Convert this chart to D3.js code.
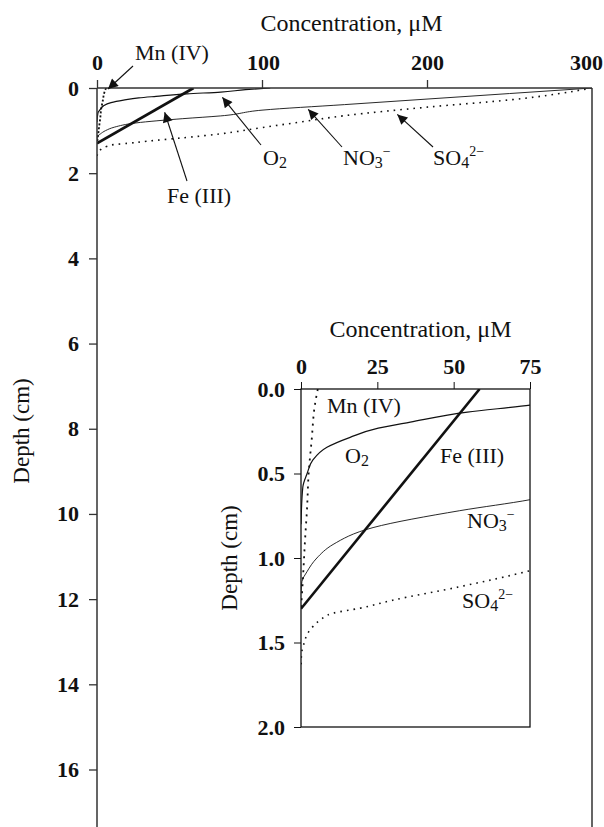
<!DOCTYPE html>
<html>
<head>
<meta charset="utf-8">
<script src="https://cdn.jsdelivr.net/npm/d3@7"></script>
<style>
  body { margin: 0; background: #fff; }
  text { font-family: "Liberation Serif", "Times New Roman", serif; fill: #111; }
  .tick text { font-weight: bold; font-size: 22px; }
  .lbl { font-size: 22px; }
  .ttl { font-size: 24px; }
</style>
</head>
<body>
<script>
// depth profiles (concentration in uM, depth in cm)
var o2Conc   = [105, 90, 75, 54.5, 35.8, 25.3, 16.1, 8.5, 3.9, 2.0, 0.6, 0];
var o2Depth  = [0, 0.04, 0.095, 0.137, 0.196, 0.232, 0.286, 0.345, 0.42, 0.5, 0.58, 0.8];
var no3Conc  = [300, 250, 200, 150, 100, 75, 52, 23.6, 10.5, 5.2, 2, 0.3, 0];
var no3Depth = [0, 0.13, 0.26, 0.39, 0.52, 0.655, 0.72, 0.82, 0.92, 1.0, 1.08, 1.14, 1.2];
var so4Conc  = [300, 250, 200, 150, 123, 100, 75, 52, 30, 19.3, 10.4, 6.3, 3.9, 2.2, 1.0, 0.2, 0];
var so4Depth = [0, 0.28, 0.45, 0.65, 0.8, 0.93, 1.075, 1.17, 1.25, 1.297, 1.327, 1.367, 1.406, 1.446, 1.505, 1.564, 1.645];
var feConc   = [58.5, 0];
var feDepth  = [0, 1.3];
var mnConc   = [5.5, 4.5, 3.5, 2.5, 2, 1.3, 0.7, 0];
var mnDepth  = [0, 0.1, 0.3, 0.5, 0.7, 0.9, 1.1, 1.3];

var mainXTicks = [0, 100, 200, 300];
var mainYTicks = [0, 2, 4, 6, 8, 10, 12, 14, 16];
var insetXTicks = [0, 25, 50, 75];
var insetYTicks = [0, 0.5, 1.0, 1.5, 2.0];

function zip(c, d) { return c.map(function(v, i) { return {c: v, d: d[i]}; }); }
var series = [
  {key: "so4", data: zip(so4Conc, so4Depth), w: 1.6, dash: "1.6,5"},
  {key: "no3", data: zip(no3Conc, no3Depth), w: 0.9, dash: null},
  {key: "o2",  data: zip(o2Conc, o2Depth),   w: 1.2, dash: null},
  {key: "mn",  data: zip(mnConc, mnDepth),   w: 1.8, dash: "2,2"},
  {key: "fe",  data: zip(feConc, feDepth),   w: 2.8, dash: null}
];

var W = 604, H = 827;
var svg = d3.select("body").append("svg").attr("width", W).attr("height", H);

var defs = svg.append("defs");
defs.append("marker").attr("id", "arr")
    .attr("viewBox", "0 0 10 10").attr("refX", 10).attr("refY", 5)
    .attr("markerWidth", 13).attr("markerHeight", 10)
    .attr("markerUnits", "userSpaceOnUse")
    .attr("orient", "auto")
  .append("path").attr("d", "M0,0L10,5L0,10z").attr("fill", "#111");

// ---- main panel ----
var x = d3.scaleLinear().domain([0, 300]).range([97, 592]);
var y = d3.scaleLinear().domain([0, 17.35]).range([88, 827]);

defs.append("clipPath").attr("id", "clipMain").append("rect")
    .attr("x", x(0)).attr("y", y(0)).attr("width", x(300) - x(0)).attr("height", y(17.35) - y(0));

var line = d3.line()
    .x(function(d) { return x(d.c); })
    .y(function(d) { return y(d.d); })
    .curve(d3.curveMonotoneY);

var main = svg.append("g");
main.append("g").attr("clip-path", "url(#clipMain)")
  .selectAll("path").data(series).enter().append("path")
    .attr("d", function(s) { return line(s.data); })
    .attr("fill", "none").attr("stroke", "#111")
    .attr("stroke-width", function(s) { return s.w; })
    .attr("stroke-dasharray", function(s) { return s.dash; });

main.append("g")
    .attr("transform", "translate(0," + y(0) + ")")
    .call(d3.axisTop(x).tickValues(mainXTicks).tickSize(8).tickPadding(10))
    .call(function(g) {
      g.select(".domain").remove();
      g.selectAll(".tick").filter(function(d) { return d === 300; })
        .select("line").remove();
      g.selectAll(".tick text").attr("dx", function(d) { return d === 300 ? -6 : (d === 100 ? 1 : 0); });
    });
main.append("g")
    .attr("transform", "translate(" + x(0) + ",0)")
    .call(d3.axisLeft(y).tickValues(mainYTicks).tickSize(8).tickPadding(10))
    .call(function(g) { g.select(".domain").remove(); });
main.selectAll(".tick line").attr("stroke", "#333").attr("stroke-width", 1.3);

// frame: top axis, left & right sides
main.append("path")
    .attr("d", "M" + x(0) + "," + y(0) + "H" + x(300)
             + "M" + x(0) + "," + y(0) + "V" + y(17.35)
             + "M" + x(300) + "," + y(0) + "V" + y(17.35))
    .attr("stroke", "#333").attr("stroke-width", 1.5).attr("fill", "none");

main.append("text").attr("class", "ttl")
    .attr("x", (x(0) + x(300)) / 2 + 7).attr("y", 31)
    .attr("text-anchor", "middle").text("Concentration, \u03bcM");
main.append("text").attr("class", "lbl")
    .attr("transform", "translate(29," + 431 + ") rotate(-90)")
    .attr("text-anchor", "middle").style("font-size", "23px").text("Depth (cm)");

// label with optional sub/superscripts
function label(g, px, py, base, sub, sup) {
  var t = g.append("text").attr("class", "lbl").attr("x", px).attr("y", py);
  t.append("tspan").text(base);
  if (sub) t.append("tspan").attr("font-size", "16px").attr("dy", 3).text(sub);
  if (sup) t.append("tspan").attr("font-size", "14px").attr("dy", sub ? -12 : -9).text(sup);
  return t;
}

function arrow(x1, y1, x2, y2) {
  main.append("line").attr("x1", x1).attr("y1", y1).attr("x2", x2).attr("y2", y2)
      .attr("stroke", "#111").attr("stroke-width", 1.1).attr("marker-end", "url(#arr)");
}

label(main, 135, 60, "Mn (IV)");
arrow(133, 66, 108, 89);
label(main, 263, 165, "O", "2");
arrow(261, 145, x(76), y(0.22));
label(main, 343, 165, "NO", "3", "\u2212");
arrow(342, 147, x(128), y(0.5));
label(main, 433, 165, "SO", "4", "2\u2212");
arrow(433, 147, x(182), y(0.62));
label(main, 167, 203, "Fe (III)");
arrow(187, 181, x(41), y(0.57));

// ---- inset ----
var xi = d3.scaleLinear().domain([0, 75]).range([301, 530]);
var yi = d3.scaleLinear().domain([0, 2]).range([389, 727]);

defs.append("clipPath").attr("id", "clipInset").append("rect")
    .attr("x", xi(0)).attr("y", yi(0)).attr("width", xi(75) - xi(0)).attr("height", yi(2) - yi(0));

var lineI = d3.line()
    .x(function(d) { return xi(d.c); })
    .y(function(d) { return yi(d.d); })
    .curve(d3.curveMonotoneY);

var inset = svg.append("g");
inset.append("rect")
    .attr("x", xi(0)).attr("y", yi(0)).attr("width", xi(75) - xi(0)).attr("height", yi(2) - yi(0))
    .attr("fill", "#fff");
inset.append("g").attr("clip-path", "url(#clipInset)")
  .selectAll("path").data(series).enter().append("path")
    .attr("d", function(s) { return lineI(s.data); })
    .attr("fill", "none").attr("stroke", "#111")
    .attr("stroke-width", function(s) { return s.key === "fe" ? 2.6 : (s.key === "so4" ? 1.6 : s.w); })
    .attr("stroke-dasharray", function(s) { return s.key === "mn" ? "2,5" : s.dash; });

inset.append("g")
    .attr("transform", "translate(0," + yi(0) + ")")
    .call(d3.axisTop(xi).tickValues(insetXTicks).tickSize(7).tickPadding(8))
    .call(function(g) { g.select(".domain").remove(); });
inset.append("g")
    .attr("transform", "translate(" + xi(0) + ",0)")
    .call(d3.axisLeft(yi).tickValues(insetYTicks).tickSize(7).tickPadding(9).tickFormat(d3.format(".1f")))
    .call(function(g) { g.select(".domain").remove(); });
inset.selectAll(".tick line").attr("stroke", "#111");

inset.append("rect")
    .attr("x", xi(0)).attr("y", yi(0)).attr("width", xi(75) - xi(0)).attr("height", yi(2) - yi(0))
    .attr("fill", "none").attr("stroke", "#111").attr("stroke-width", 1.3);

inset.append("text").attr("class", "ttl")
    .attr("x", (xi(0) + xi(75)) / 2 + 5).attr("y", 337)
    .attr("text-anchor", "middle").text("Concentration, \u03bcM");
inset.append("text").attr("class", "lbl")
    .attr("transform", "translate(237," + yi(1) + ") rotate(-90)")
    .attr("text-anchor", "middle").style("font-size", "23px").text("Depth (cm)");

label(inset, 327, 413, "Mn (IV)");
label(inset, 345, 463, "O", "2");
label(inset, 440, 463, "Fe (III)");
label(inset, 467, 528, "NO", "3", "\u2212");
label(inset, 462, 608, "SO", "4", "2\u2212");
</script>
</body>
</html>
